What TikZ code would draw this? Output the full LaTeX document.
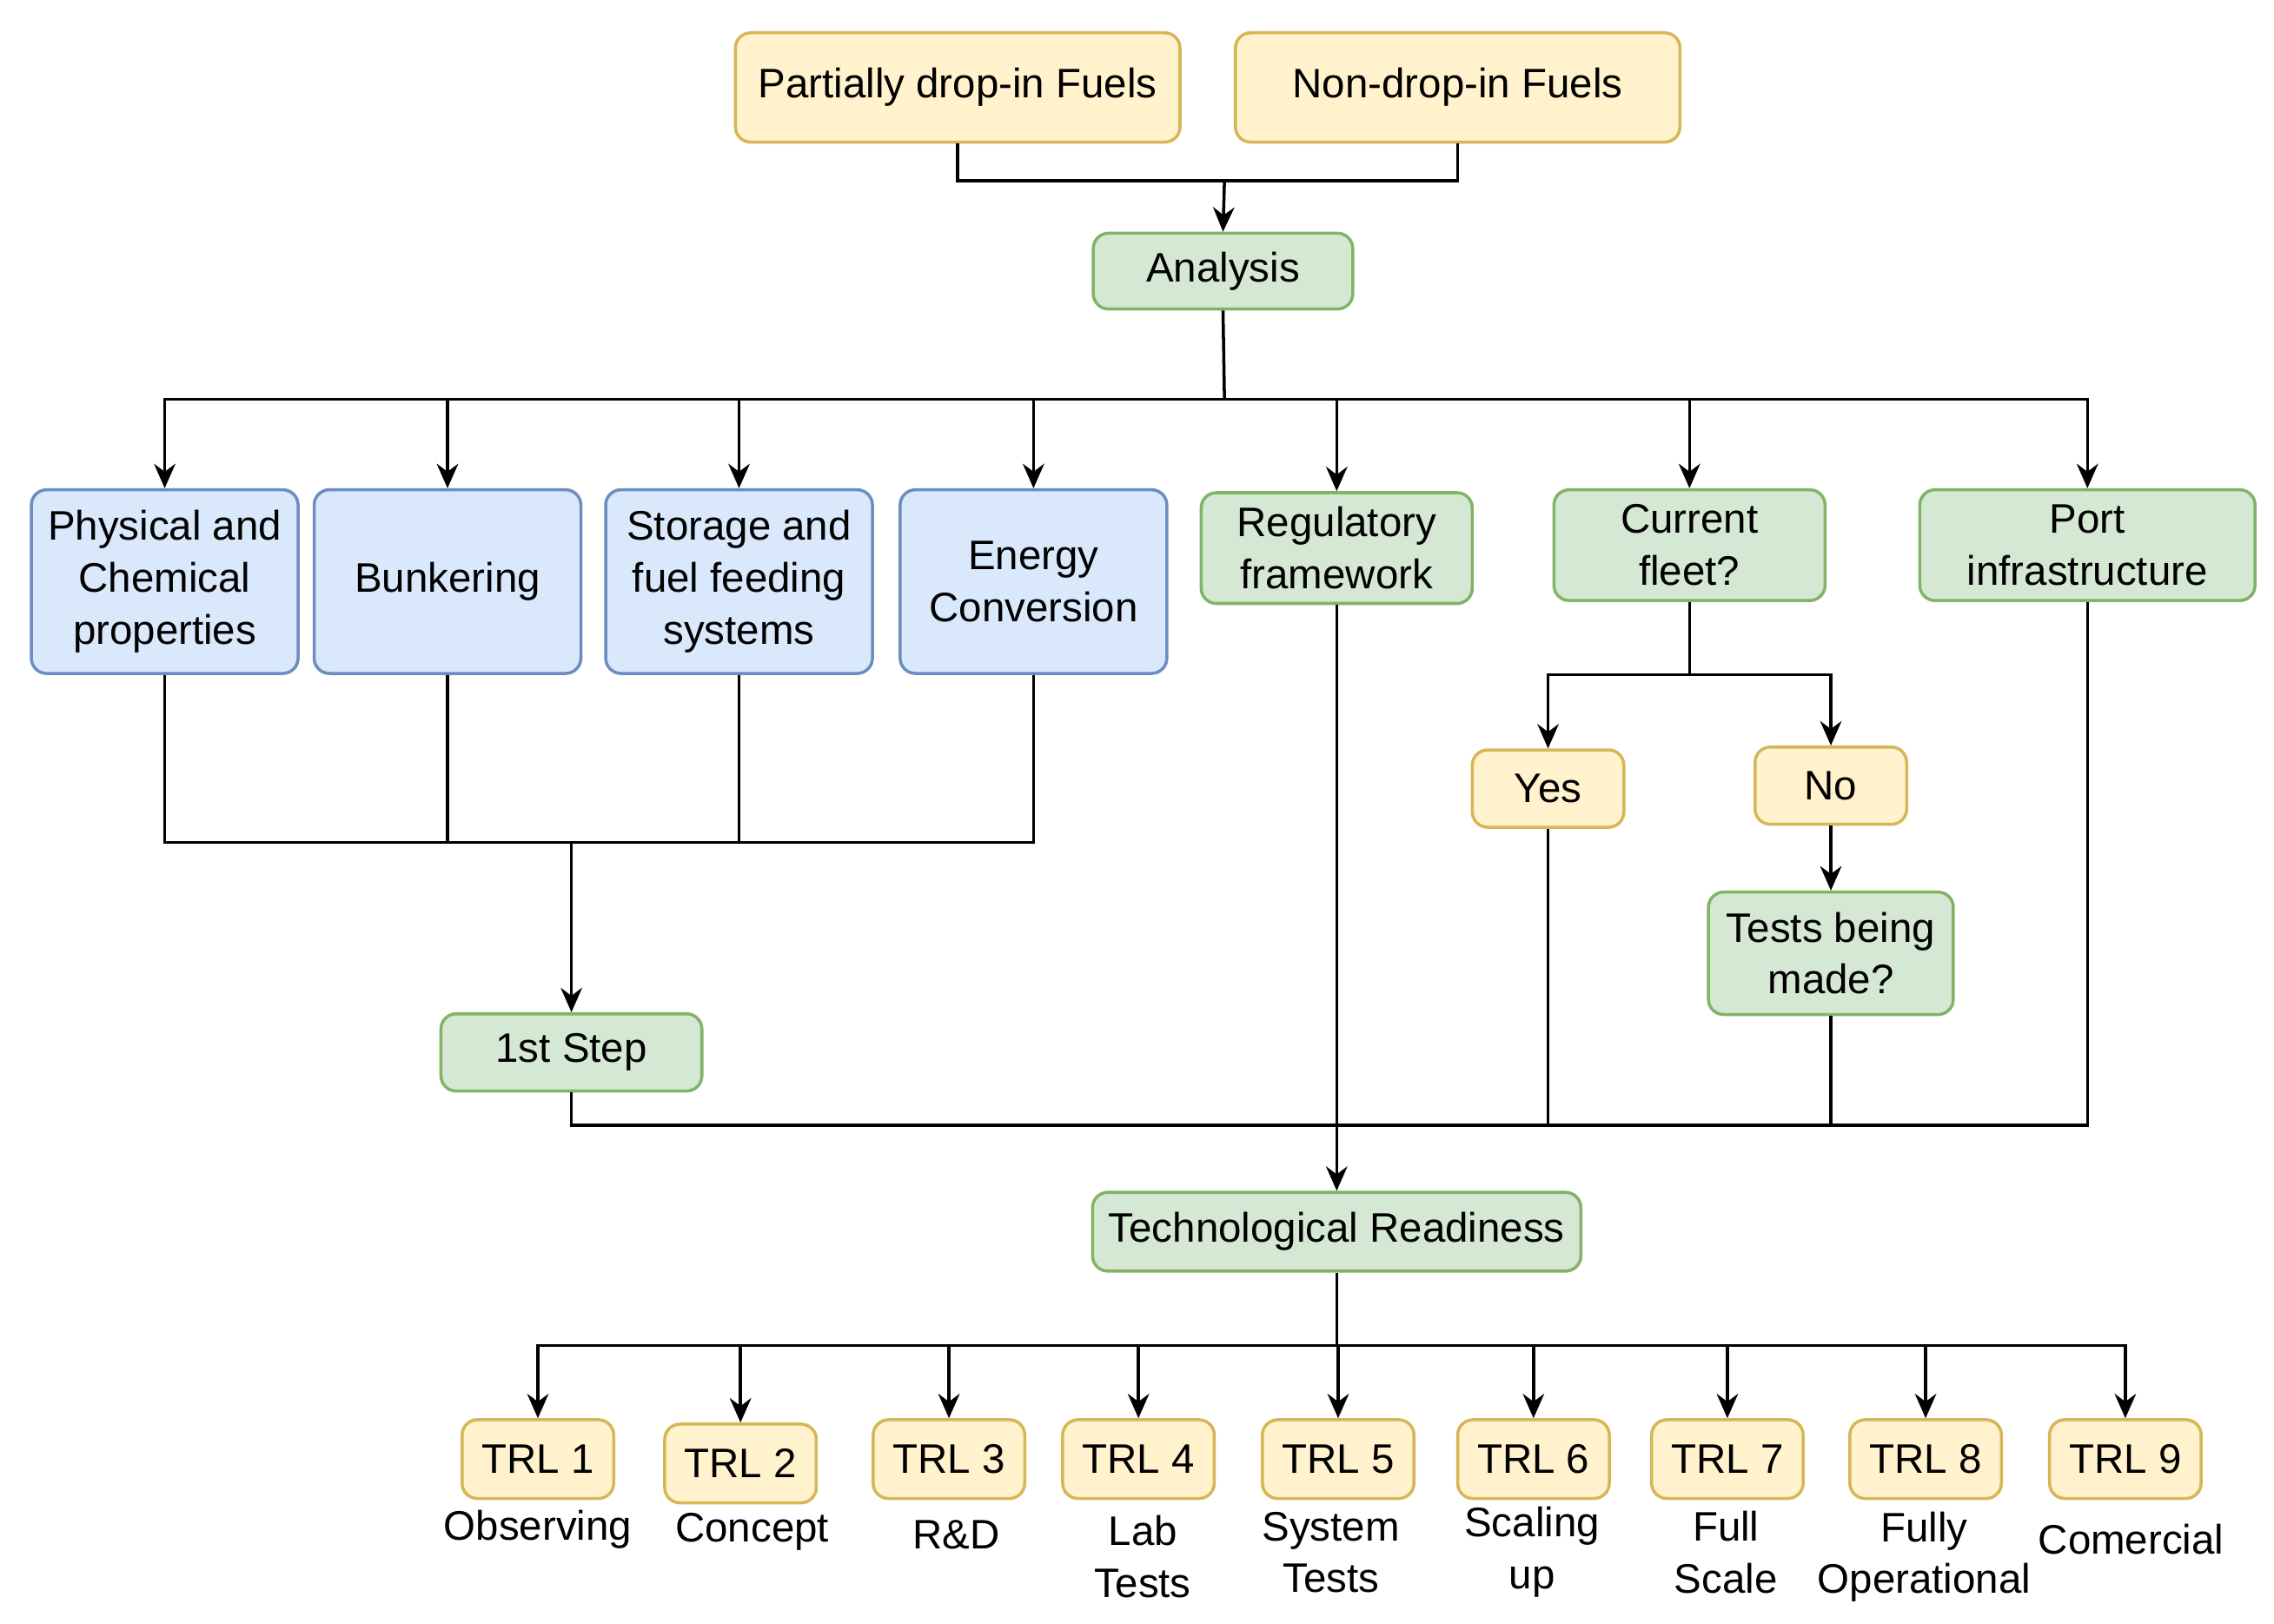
\documentclass[tikz,border=0pt]{standalone}
\usepackage{fontspec}
\setmainfont{Liberation Sans}
\usetikzlibrary{arrows.meta}
\newcommand\U{0.016776cm}
\definecolor{yf}{HTML}{FFF2CC}\definecolor{yd}{HTML}{D6B656}
\definecolor{gf}{HTML}{D5E8D4}\definecolor{gd}{HTML}{82B366}
\definecolor{bf}{HTML}{DAE8FC}\definecolor{bd}{HTML}{6C8EBF}
\begin{document}
\begin{tikzpicture}[x=0.016776cm,y=-0.016776cm,
 box/.style={draw,line width=1pt,rounded corners=5pt,align=center,inner sep=0pt,font=\fontsize{13.5}{17}\selectfont},
 Y/.style={box,fill=yf,draw=yd},G/.style={box,fill=gf,draw=gd},B/.style={box,fill=bf,draw=bd},
 ln/.style={line width=1pt},ar/.style={ln,-{Stealth[length=8pt,width=7pt]}},
 lab/.style={align=center,inner sep=0pt,font=\fontsize{13.5}{17}\selectfont}]
\useasboundingbox (0,0) rectangle (1560,1114);
\node[Y,minimum width=305*\U,minimum height=75*\U] (p) at (657,60) {Partially drop-in Fuels};
\node[Y,minimum width=305*\U,minimum height=75*\U] (n) at (1000,60) {Non-drop-in Fuels};
\node[G,minimum width=178*\U,minimum height=52*\U] (an) at (839,186) {Analysis};
\node[B,minimum width=183*\U,minimum height=126*\U] (b1) at (113,399) {Physical and\\Chemical\\properties};
\node[B,minimum width=183*\U,minimum height=126*\U] (b2) at (307,399) {Bunkering};
\node[B,minimum width=183*\U,minimum height=126*\U] (b3) at (507,399) {Storage and\\fuel feeding\\systems};
\node[B,minimum width=183*\U,minimum height=126*\U] (b4) at (709,399) {Energy\\Conversion};
\node[G,minimum width=186*\U,minimum height=76*\U] (rf) at (917,376) {Regulatory\\framework};
\node[G,minimum width=186*\U,minimum height=76*\U] (cf) at (1159,374) {Current\\fleet?};
\node[G,minimum width=230*\U,minimum height=76*\U] (pi) at (1432,374) {Port\\infrastructure};
\node[G,minimum width=179*\U,minimum height=53*\U] (s1) at (392,722) {1st Step};
\node[Y,minimum width=104*\U,minimum height=53*\U] (ye) at (1062,541) {Yes};
\node[Y,minimum width=104*\U,minimum height=53*\U] (no) at (1256,539) {No};
\node[G,minimum width=168*\U,minimum height=84*\U] (tb) at (1256,654) {Tests being\\made?};
\node[G,minimum width=335*\U,minimum height=54*\U] (tr) at (917,845) {Technological Readiness};
\foreach \i/\x/\y in {1/369/1001,2/508/1004,3/651/1001,4/781/1001,5/918/1001,6/1052/1001,7/1185/1001,8/1321/1001,9/1458/1001}
  \node[Y,minimum width=104*\U,minimum height=54*\U] (t\i) at (\x,\y) {TRL \i};
\node[lab] (l1) at (369,1049) {Observing};
\node[lab] (l2) at (516,1051) {Concept};
\node[lab] (l3) at (656,1053) {R\&D};
\node[lab] (l4) at (784,1068) {Lab\\Tests};
\node[lab] (l5) at (913,1065) {System\\Tests};
\node[lab] (l6) at (1051,1065) {Scaling\\up};
\node[lab] (l7) at (1184,1065) {Full\\Scale};
\node[lab] (l8) at (1320,1068) {Fully\\Operational};
\node[lab] (l9) at (1462,1056) {Comercial};
% top merge
\coordinate (m) at (840,124);
\draw[ln] (p.south) |- (m) -| (n.south);
\draw[ar] (m) -- (an.north);
% analysis bus
\coordinate (ab) at (840,274);
\draw[ln] (an.south) -- (ab);
\foreach \t in {b1,b2,b3,b4,cf,pi} \draw[ar] (ab) -| (\t.north);
\draw[ar] (ab) -| (rf.north);
% blue bus
\coordinate (bb) at (392,578);
\foreach \t in {b1,b2,b3,b4} \draw[ln] (\t.south) |- (bb);
\draw[ar] (bb) -- (s1.north);
% current fleet
\coordinate (cb) at (1159,463);
\draw[ln] (cf.south) -- (cb);
\draw[ar] (cb) -| (ye.north);
\draw[ar] (cb) -| (no.north);
\draw[ar] (no.south) -- (tb.north);
% lower bus
\coordinate (lb) at (917,772);
\draw[ln] (s1.south) |- (lb);
\foreach \t in {ye,tb,pi} \draw[ln] (\t.south) |- (lb);
\draw[ar] (rf.south) -- (tr.north);
% TRL bus
\coordinate (tbus) at (917,923);
\draw[ln] (tr.south) -- (tbus);
\foreach \i in {1,...,9} \draw[ar] (tbus) -| (t\i.north);
\end{tikzpicture}
\end{document}
